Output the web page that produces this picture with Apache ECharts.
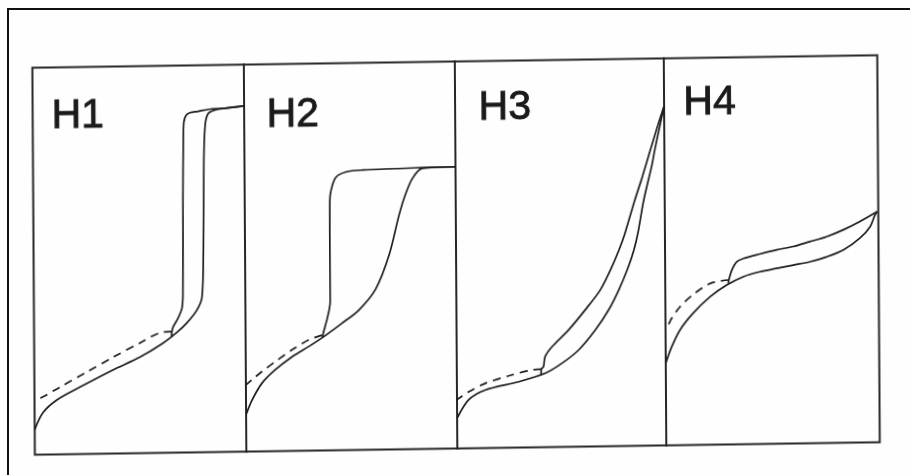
<!DOCTYPE html>
<html>
<head>
<meta charset="utf-8">
<script src="https://cdn.jsdelivr.net/npm/echarts@6/dist/echarts.min.js"></script>
<style>
  html, body { margin: 0; padding: 0; background: #ffffff; }
  #wrap { position: relative; width: 910px; height: 475px; overflow: hidden; background: #fefefe; }
  #frame { position: absolute; left: 7px; top: 8px; width: 903px; height: 467px; box-sizing: border-box;
           border-left: 2px solid #111; border-top: 2px solid #111; }
  #chart { position: absolute; left: 0; top: 0; width: 910px; height: 475px;
           transform-origin: 455px 237.5px; transform: matrix(1, -0.0148, 0.0065, 1, 0, 0); }
</style>
</head>
<body>
<div id="wrap">
  <div id="frame"></div>
  <div id="chart"></div>
</div>
<script>
// Panel labels (IUPAC hysteresis loop types)
const panelLabels = ['H1', 'H2', 'H3', 'H4'];

// [relative pressure p/p0, amount adsorbed (arbitrary units, 0-100)]
const h1Adsorption = [[0,6.5],[0.039,10.8],[0.106,14.1],[0.215,17.3],[0.371,21.6],[0.499,24.8],[0.608,28.3],[0.676,31.1],[0.723,33.5],[0.771,36.8],[0.795,40.1],[0.803,52.2],[0.808,75.4],[0.815,84.4],[0.829,87.4],[0.862,88.4],[0.910,88.8],[1.0,89.3]];
const h1Desorption = [[1.0,89.3],[0.910,88.8],[0.848,88.7],[0.782,88.1],[0.744,87.8],[0.725,87.1],[0.715,85.5],[0.712,82.2],[0.708,65.4],[0.705,40.8],[0.700,37.3],[0.681,34.7],[0.657,32.4],[0.652,31.3],[0.650,30.0]];
const h1LowPressure = [[0.652,31.3],[0.608,31.2],[0.501,28.5],[0.373,24.9],[0.249,21.2],[0.121,17.4],[0.040,14.9],[0,14.1]];

const h2Adsorption = [[0,9.5],[0.028,13.2],[0.076,17.6],[0.139,21.0],[0.219,24.3],[0.299,26.9],[0.362,29.1],[0.457,32.8],[0.537,36.1],[0.618,41.5],[0.683,50.3],[0.731,60.5],[0.761,65.7],[0.796,70.0],[0.843,72.5],[1.0,72.8]];
const h2Desorption = [[1.0,72.8],[0.843,72.7],[0.561,72.3],[0.482,71.9],[0.432,70.5],[0.408,66.8],[0.403,63.4],[0.402,49.2],[0.402,38.4],[0.388,34.2],[0.370,30.7],[0.364,29.3]];
const h2LowPressure = [[0.362,29.8],[0.299,28.6],[0.219,26.1],[0.139,23.1],[0.076,20.6],[0.028,18.5],[0,17.2]];

const h3Adsorption = [[0,7.8],[0.055,12.5],[0.135,15.0],[0.295,17.0],[0.423,19.1],[0.503,21.6],[0.584,25.0],[0.664,30.1],[0.728,35.2],[0.777,40.3],[0.822,46.0],[0.851,50.6],[0.871,55.0],[0.900,63.5],[0.940,72.5],[0.954,76.4],[0.980,82.8],[1.0,87.7]];
const h3Desorption = [[1.0,87.7],[0.970,82.8],[0.933,76.4],[0.889,68.7],[0.857,63.5],[0.809,55.0],[0.780,50.7],[0.738,45.5],[0.689,40.4],[0.616,35.3],[0.536,30.2],[0.456,25.9],[0.423,23.4],[0.415,20.8],[0.405,20.2],[0.403,18.8]];
const h3LowPressure = [[0.405,20.2],[0.359,20.0],[0.264,18.8],[0.135,16.7],[0.056,14.6],[0.008,12.9],[0,12.7]];

const h4Adsorption = [[0,21.2],[0.028,25.4],[0.068,29.8],[0.129,34.0],[0.209,38.2],[0.288,41.2],[0.366,43.3],[0.444,44.5],[0.522,45.3],[0.601,46.1],[0.679,46.9],[0.757,48.1],[0.835,49.8],[0.913,52.8],[0.961,55.7],[0.984,58.7],[0.995,59.6]];
const h4Desorption = [[0.995,59.6],[0.914,57.1],[0.835,55.0],[0.757,53.3],[0.679,52.1],[0.601,50.9],[0.523,50.1],[0.445,49.1],[0.367,48.0],[0.336,47.2],[0.313,45.1],[0.298,42.5],[0.296,41.6]];
const h4LowPressure = [[0.298,42.5],[0.212,41.7],[0.129,38.8],[0.069,35.8],[0.029,32.8],[0.012,31.1],[0,30.5]];

const panelCurves = [
  [h1Adsorption, h1Desorption, h1LowPressure],
  [h2Adsorption, h2Desorption, h2LowPressure],
  [h3Adsorption, h3Desorption, h3LowPressure],
  [h4Adsorption, h4Desorption, h4LowPressure]
];

// layout
const edges = [33.5, 245, 456, 665, 878.5];
const gridTop = 61.5, gridHeight = 387;
const labelPos = [[52.5, 110.2], [267.5, 112.5], [479.6, 108.2], [684.3, 107]];
const ink = '#1c1c1c';

const grids = [], xAxes = [], yAxes = [], series = [], graphics = [];
panelLabels.forEach((lab, i) => {
  grids.push({ left: edges[i], top: gridTop, width: edges[i+1] - edges[i], height: gridHeight,
               show: true, borderColor: '#262626', borderWidth: 2, backgroundColor: 'transparent' });
  xAxes.push({ type: 'value', gridIndex: i, min: 0, max: 1, show: false });
  yAxes.push({ type: 'value', gridIndex: i, min: 0, max: 100, show: false });
  panelCurves[i].forEach((data, k) => {
    series.push({
      type: 'line', xAxisIndex: i, yAxisIndex: i, data: data,
      showSymbol: false, smooth: 0.3, silent: true,
      lineStyle: { color: ink, width: 1.7, type: k === 2 ? [8, 6] : 'solid' }
    });
  });
  graphics.push({ type: 'text', x: labelPos[i][0], y: labelPos[i][1],
    style: { text: lab, fill: '#1a1a1a', stroke: '#1a1a1a', lineWidth: 0.9,
             font: '41px "Liberation Sans", Arial, Helvetica, sans-serif',
             align: 'left', verticalAlign: 'middle' } });
});

const chart = echarts.init(document.getElementById('chart'), null, { renderer: 'canvas' });
chart.setOption({
  animation: false,
  backgroundColor: 'transparent',
  grid: grids, xAxis: xAxes, yAxis: yAxes, series: series, graphic: graphics
});
</script>
</body>
</html>
